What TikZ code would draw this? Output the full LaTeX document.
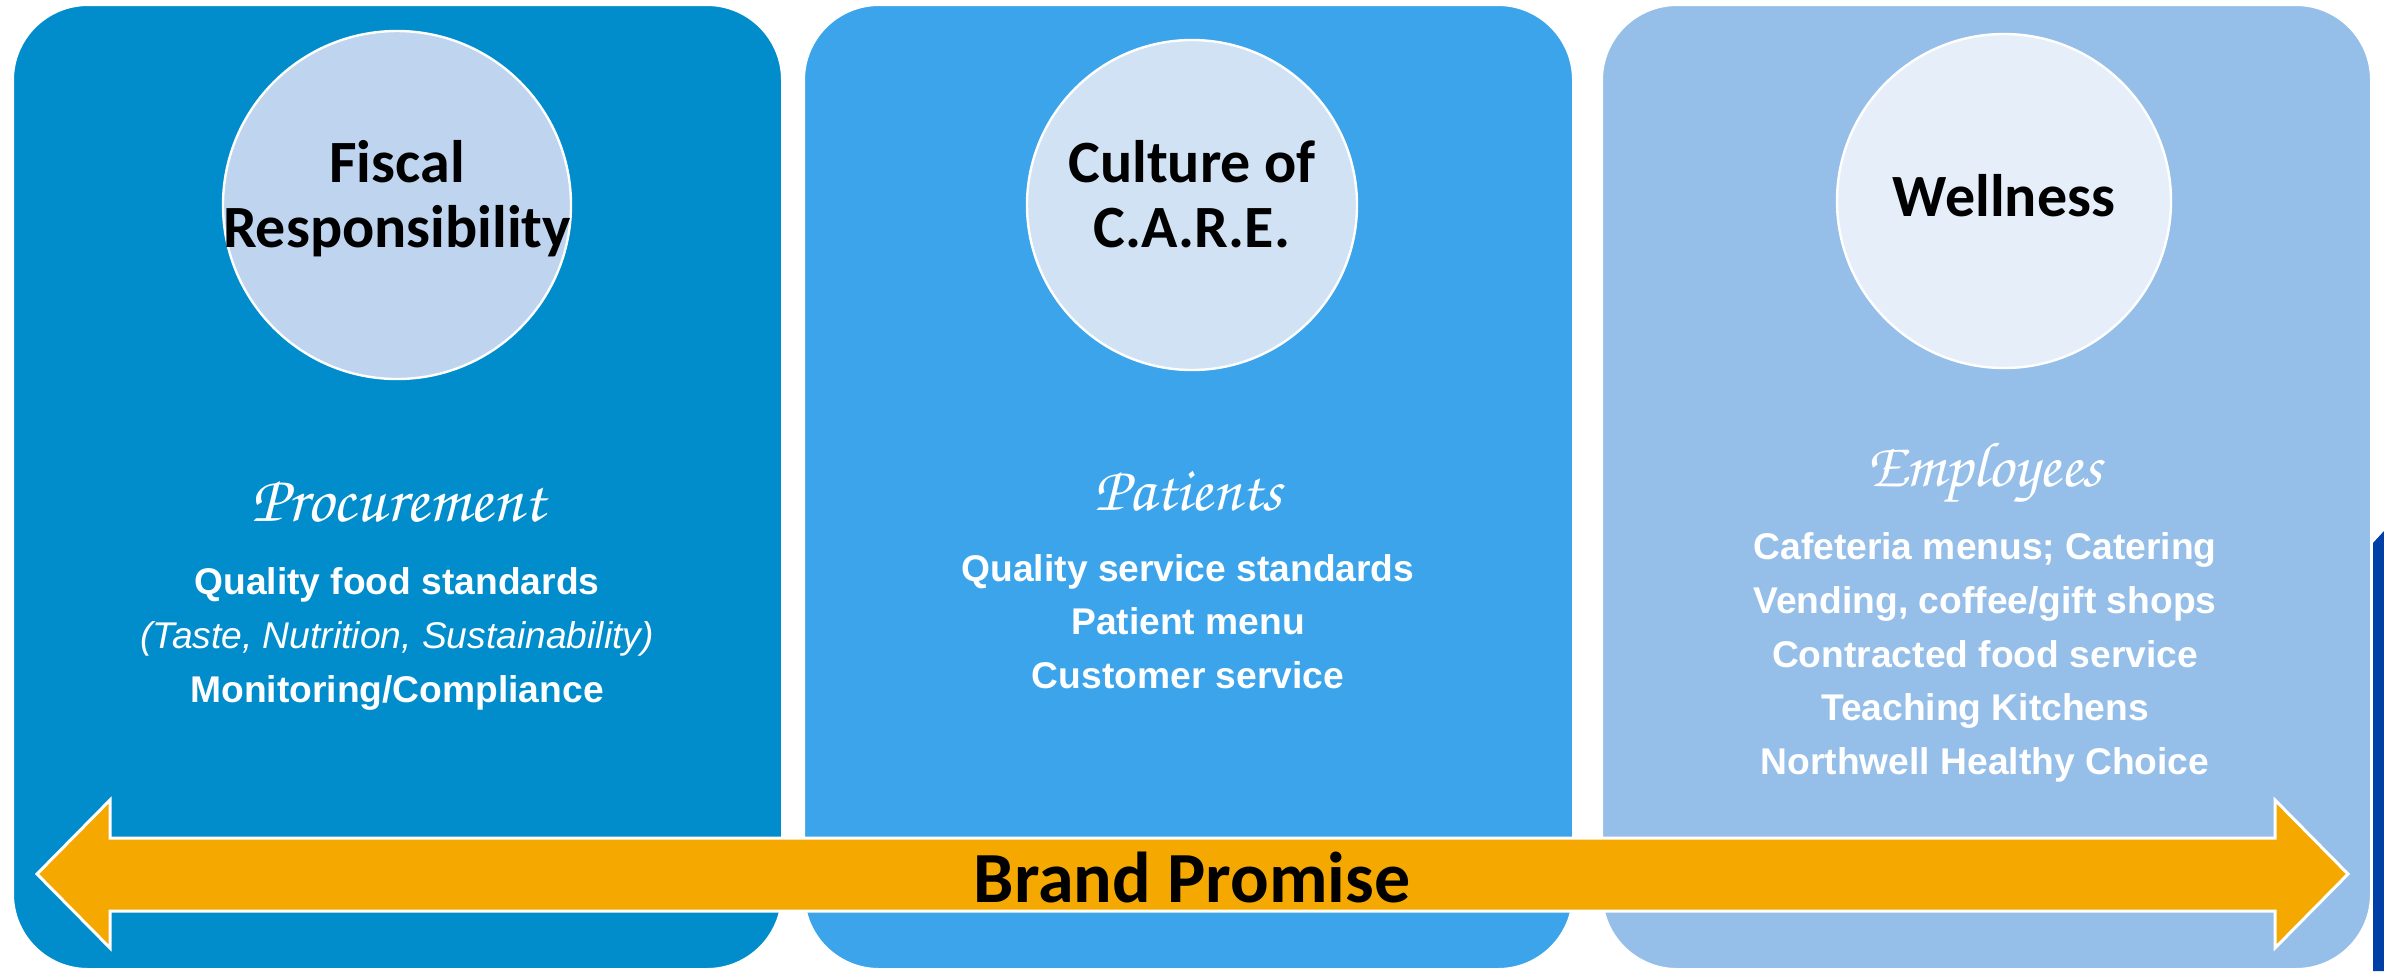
\documentclass[tikz,border=0pt]{standalone}
\usepackage{fontspec}
\usepackage{graphicx}
\setmainfont{Liberation Sans}
\newfontfamily\headfont{Carlito}
\newfontfamily\chancery{TeX Gyre Chorus}
\definecolor{panelA}{HTML}{018CCB}
\definecolor{panelB}{HTML}{3BA4EA}
\definecolor{panelC}{HTML}{95BFE9}
\definecolor{discA}{HTML}{BED4EF}
\definecolor{discB}{HTML}{D1E2F4}
\definecolor{discC}{HTML}{E5EEF9}
\definecolor{promise}{HTML}{F5A800}
\definecolor{edgeblue}{HTML}{0040A6}
\tikzset{
  panel/.style={draw=white, line width=1pt, rounded corners=37.5pt},
  disc/.style={circle, draw=white, line width=1.2pt, inner sep=0pt},
  disctext/.style={font=\headfont\bfseries\fontsize{30}{32.5}\selectfont, align=center, text=black},
  heading/.style={text=white, inner sep=0pt},
  itemline/.style={anchor=base, text=white, inner sep=0pt, font=\bfseries\fontsize{18.6}{22}\selectfont},
  itemital/.style={anchor=base, text=white, inner sep=0pt, font=\itshape\fontsize{18.6}{22}\selectfont},
}
\begin{document}
\begin{tikzpicture}[x=0.5pt, y=-0.5pt]
\useasboundingbox (0,0) rectangle (2384,971);

% dark edge strip on the right
\fill[edgeblue] (2373,543) -- (2384,531) -- (2384,971) -- (2373,971) -- cycle;

% three columns
\path[panel, fill=panelA] (13,5) rectangle (782,969);
\path[panel, fill=panelB] (804,5) rectangle (1573,969);
\path[panel, fill=panelC] (1602,5) rectangle (2371,969);
\coordinate (colA) at (397,0);
\coordinate (colB) at (1188,0);
\coordinate (colC) at (1985,0);

% discs
\node[disc, fill=discA, minimum size=174pt] (d1) at (397,205) {};
\node[disc, fill=discB, minimum size=165pt] (d2) at (1192,205) {};
\node[disc, fill=discC, minimum size=167pt] (d3) at (2004,201) {};
\node[disctext] (t1) at (397,199) {Fiscal\\Responsibility};
\node[disctext] (t2) at (1192,194) {Culture of\\C.A.R.E.};
\node[disctext] (t3) at (2004,196) {Wellness};

% script headings
\node[heading] (h1) at (398,502) {\resizebox{146.5pt}{!}{\chancery Procurement}};
\node[heading] (h2) at (1188,491) {\resizebox{93.5pt}{!}{\chancery Patients}};
\node[heading] (h3) at (1984,473) {\resizebox{118pt}{!}{\chancery Employees}};

% column A items
\node[itemline] (a1) at (397,594) {Quality food standards};
\node[itemital] (a2) at (397,648) {(Taste, Nutrition, Sustainability)};
\node[itemline] (a3) at (397,702) {Monitoring/Compliance};

% column B items
\node[itemline] (b1) at (1188,581) {Quality service standards};
\node[itemline] (b2) at (1188,634) {Patient menu};
\node[itemline] (b3) at (1188,688) {Customer service};

% column C items
\node[itemline] (c1) at (1985,559) {Cafeteria menus; Catering};
\node[itemline] (c2) at (1985,613) {Vending, coffee/gift shops};
\node[itemline] (c3) at (1985,667) {Contracted food service};
\node[itemline] (c4) at (1985,720) {Teaching Kitchens};
\node[itemline] (c5) at (1985,774) {Northwell Healthy Choice};

% double-headed promise arrow
\fill[promise, draw=white, line width=1.5pt]
  (37,874) -- (110,800) -- (110,838) -- (2275,838) -- (2275,800)
  -- (2348,874) -- (2275,948) -- (2275,911) -- (110,911) -- (110,948) -- cycle;
\node[font=\headfont\bfseries\fontsize{36}{40}\selectfont, text=black] (bp) at (1192,877) {Brand Promise};
\end{tikzpicture}
\end{document}
